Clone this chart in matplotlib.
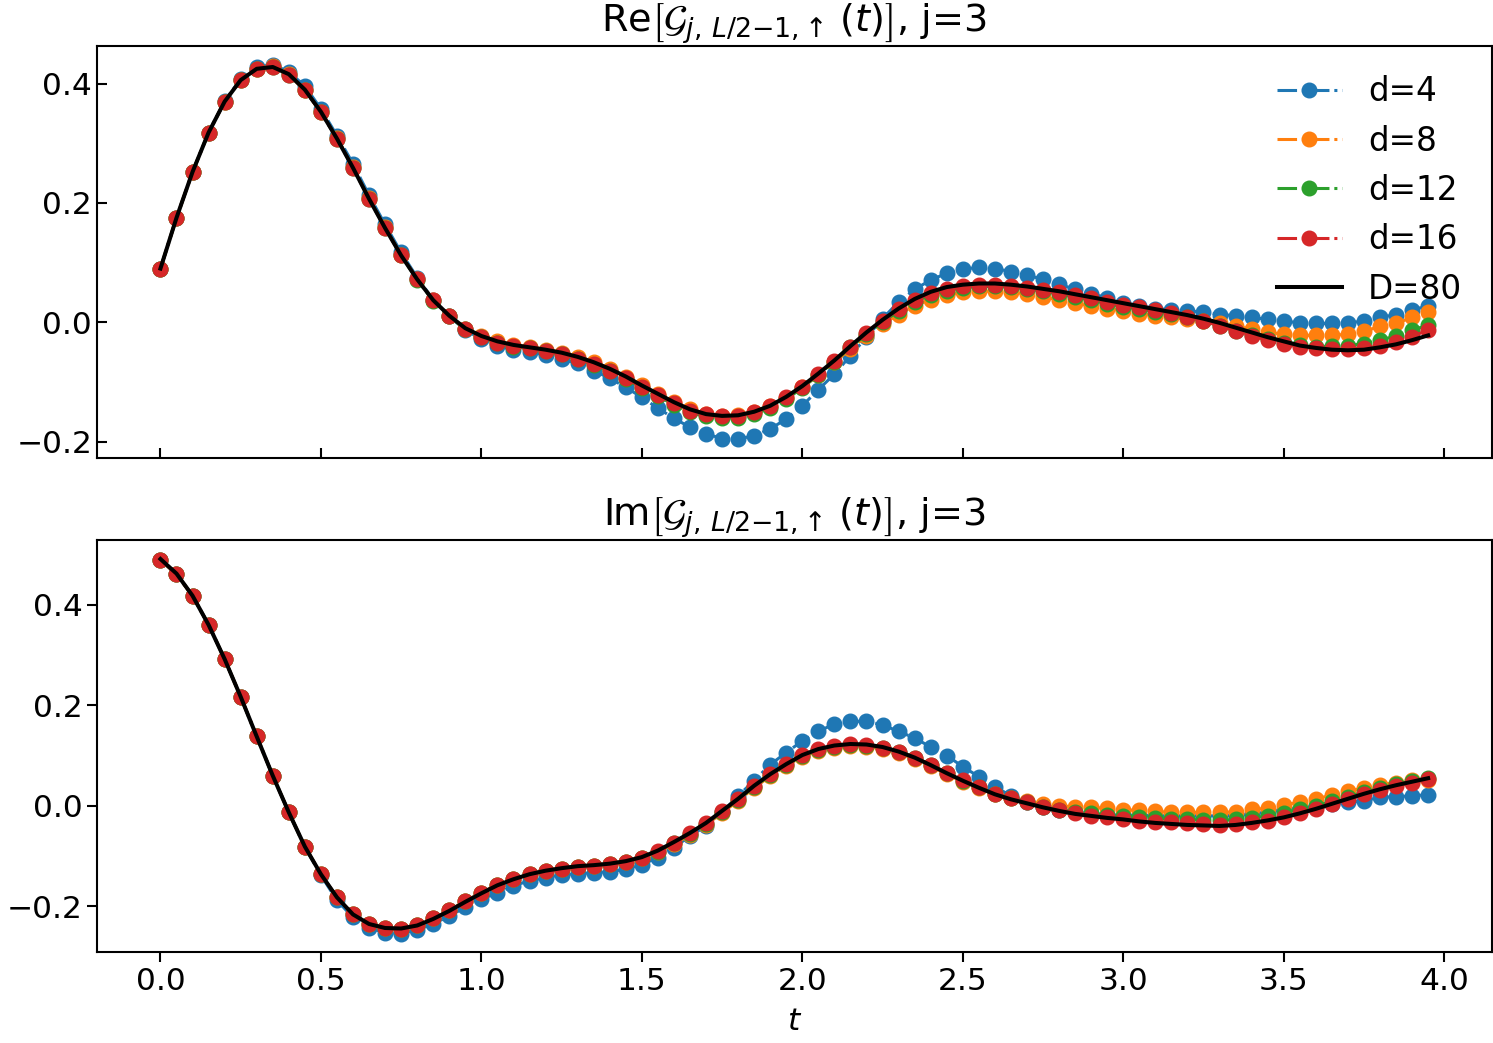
import numpy as np
import matplotlib
matplotlib.use("Agg")
import matplotlib.pyplot as plt

# time grid (dt = 0.05)
t = np.round(np.arange(0, 4.0, 0.05), 2)

# Re part
re_d4 = [0.090, 0.175, 0.252, 0.318, 0.371, 0.408, 0.428, 0.432, 0.420, 0.396,
         0.358, 0.313, 0.266, 0.213, 0.164, 0.117, 0.075, 0.038, 0.010, -0.013,
         -0.028, -0.040, -0.046, -0.050, -0.055, -0.062, -0.069, -0.081, -0.094, -0.109,
         -0.126, -0.144, -0.161, -0.176, -0.187, -0.195, -0.196, -0.190, -0.179, -0.162,
         -0.140, -0.113, -0.087, -0.056, -0.025, 0.006, 0.034, 0.055, 0.071, 0.082,
         0.089, 0.092, 0.090, 0.085, 0.079, 0.072, 0.064, 0.055, 0.048, 0.041,
         0.033, 0.027, 0.023, 0.021, 0.019, 0.017, 0.013, 0.011, 0.008, 0.005,
         0.002, -0.001, -0.002, -0.002, -0.001, 0.002, 0.008, 0.013, 0.021, 0.027]
re_d8 = [0.090, 0.175, 0.252, 0.318, 0.370, 0.406, 0.425, 0.429, 0.416, 0.390,
         0.353, 0.309, 0.260, 0.208, 0.159, 0.113, 0.073, 0.038, 0.011, -0.011,
         -0.023, -0.032, -0.038, -0.041, -0.046, -0.051, -0.058, -0.067, -0.078, -0.091,
         -0.106, -0.120, -0.134, -0.146, -0.153, -0.157, -0.156, -0.151, -0.141, -0.127,
         -0.109, -0.089, -0.067, -0.045, -0.023, -0.003, 0.013, 0.028, 0.038, 0.045,
         0.050, 0.052, 0.052, 0.051, 0.047, 0.043, 0.037, 0.032, 0.027, 0.023,
         0.019, 0.014, 0.011, 0.008, 0.005, 0.002, -0.002, -0.006, -0.012, -0.017,
         -0.020, -0.022, -0.022, -0.022, -0.020, -0.015, -0.007, -0.002, 0.008, 0.018]
re_d12 = [0.090, 0.175, 0.252, 0.318, 0.370, 0.406, 0.425, 0.428, 0.415, 0.389,
          0.352, 0.308, 0.259, 0.207, 0.158, 0.112, 0.071, 0.036, 0.010, -0.012,
          -0.025, -0.035, -0.041, -0.044, -0.049, -0.054, -0.062, -0.071, -0.082, -0.095,
          -0.110, -0.124, -0.138, -0.151, -0.158, -0.161, -0.160, -0.154, -0.144, -0.129,
          -0.110, -0.088, -0.066, -0.042, -0.020, 0.000, 0.019, 0.034, 0.046, 0.053,
          0.058, 0.060, 0.060, 0.059, 0.056, 0.052, 0.047, 0.042, 0.037, 0.031,
          0.026, 0.022, 0.018, 0.014, 0.009, 0.002, -0.006, -0.014, -0.021, -0.028,
          -0.034, -0.038, -0.041, -0.040, -0.039, -0.036, -0.030, -0.023, -0.013, -0.005]
re_d16 = [0.090, 0.175, 0.252, 0.318, 0.370, 0.406, 0.425, 0.428, 0.415, 0.389,
          0.352, 0.308, 0.259, 0.207, 0.158, 0.112, 0.072, 0.037, 0.011, -0.011,
          -0.024, -0.034, -0.040, -0.043, -0.048, -0.053, -0.061, -0.070, -0.081, -0.094,
          -0.109, -0.122, -0.136, -0.148, -0.154, -0.158, -0.157, -0.151, -0.141, -0.126,
          -0.108, -0.087, -0.065, -0.041, -0.018, 0.002, 0.022, 0.037, 0.049, 0.055,
          0.060, 0.062, 0.062, 0.061, 0.058, 0.054, 0.050, 0.045, 0.040, 0.034,
          0.029, 0.025, 0.021, 0.016, 0.009, 0.002, -0.006, -0.015, -0.023, -0.030,
          -0.037, -0.041, -0.044, -0.045, -0.045, -0.043, -0.040, -0.033, -0.024, -0.013]
re_D80 = [0.090, 0.175, 0.252, 0.318, 0.370, 0.406, 0.425, 0.428, 0.416, 0.390,
          0.353, 0.308, 0.259, 0.207, 0.158, 0.112, 0.072, 0.037, 0.011, -0.010,
          -0.023, -0.032, -0.038, -0.042, -0.046, -0.051, -0.058, -0.067, -0.078, -0.091,
          -0.106, -0.120, -0.134, -0.146, -0.154, -0.157, -0.156, -0.150, -0.140, -0.125,
          -0.107, -0.086, -0.064, -0.040, -0.017, 0.004, 0.023, 0.039, 0.051, 0.059,
          0.063, 0.065, 0.065, 0.063, 0.060, 0.056, 0.052, 0.047, 0.042, 0.037,
          0.032, 0.027, 0.022, 0.017, 0.012, 0.006, -0.001, -0.009, -0.017, -0.025,
          -0.032, -0.039, -0.043, -0.046, -0.047, -0.046, -0.042, -0.037, -0.030, -0.022]

# Im part
im_d4 = [0.489, 0.461, 0.418, 0.360, 0.292, 0.217, 0.138, 0.060, -0.013, -0.082,
         -0.138, -0.188, -0.222, -0.243, -0.252, -0.254, -0.247, -0.235, -0.219, -0.202,
         -0.185, -0.174, -0.159, -0.149, -0.143, -0.137, -0.135, -0.133, -0.131, -0.126,
         -0.117, -0.103, -0.083, -0.060, -0.040, -0.013, 0.020, 0.050, 0.082, 0.106,
         0.129, 0.148, 0.163, 0.168, 0.168, 0.161, 0.148, 0.135, 0.117, 0.100,
         0.078, 0.058, 0.038, 0.020, 0.007, -0.002, -0.009, -0.013, -0.016, -0.018,
         -0.019, -0.019, -0.020, -0.020, -0.020, -0.020, -0.020, -0.019, -0.017, -0.012,
         -0.008, -0.004, -0.001, 0.003, 0.007, 0.010, 0.017, 0.018, 0.020, 0.022]
im_d8 = [0.489, 0.461, 0.418, 0.360, 0.292, 0.217, 0.138, 0.060, -0.013, -0.081,
         -0.136, -0.182, -0.216, -0.235, -0.243, -0.244, -0.237, -0.224, -0.208, -0.190,
         -0.173, -0.157, -0.146, -0.136, -0.129, -0.125, -0.121, -0.119, -0.116, -0.111,
         -0.104, -0.092, -0.076, -0.058, -0.038, -0.014, 0.010, 0.036, 0.059, 0.080,
         0.098, 0.110, 0.116, 0.120, 0.118, 0.113, 0.105, 0.093, 0.079, 0.063,
         0.048, 0.036, 0.023, 0.015, 0.009, 0.003, 0.000, -0.002, -0.003, -0.005,
         -0.008, -0.009, -0.011, -0.013, -0.013, -0.013, -0.013, -0.012, -0.007, -0.005,
         0.002, 0.007, 0.013, 0.022, 0.030, 0.035, 0.042, 0.046, 0.051, 0.052]
im_d12 = [0.489, 0.461, 0.418, 0.360, 0.292, 0.217, 0.138, 0.060, -0.013, -0.081,
          -0.136, -0.182, -0.216, -0.235, -0.243, -0.244, -0.237, -0.224, -0.208, -0.190,
          -0.173, -0.157, -0.146, -0.136, -0.129, -0.125, -0.121, -0.119, -0.116, -0.111,
          -0.103, -0.091, -0.074, -0.056, -0.036, -0.012, 0.012, 0.038, 0.061, 0.081,
          0.099, 0.111, 0.118, 0.122, 0.120, 0.115, 0.107, 0.095, 0.081, 0.065,
          0.050, 0.037, 0.024, 0.015, 0.007, -0.002, -0.008, -0.012, -0.015, -0.018,
          -0.020, -0.023, -0.025, -0.026, -0.027, -0.028, -0.029, -0.027, -0.024, -0.020,
          -0.014, -0.007, 0.000, 0.009, 0.018, 0.027, 0.035, 0.043, 0.049, 0.055]
im_d16 = [0.489, 0.461, 0.418, 0.360, 0.292, 0.217, 0.138, 0.060, -0.013, -0.081,
          -0.136, -0.182, -0.216, -0.235, -0.243, -0.244, -0.237, -0.224, -0.208, -0.190,
          -0.173, -0.157, -0.146, -0.136, -0.129, -0.125, -0.121, -0.119, -0.116, -0.111,
          -0.103, -0.090, -0.073, -0.055, -0.035, -0.011, 0.013, 0.040, 0.063, 0.083,
          0.101, 0.113, 0.119, 0.123, 0.121, 0.116, 0.108, 0.096, 0.082, 0.066,
          0.051, 0.038, 0.024, 0.015, 0.007, -0.002, -0.009, -0.015, -0.020, -0.023,
          -0.026, -0.030, -0.032, -0.033, -0.035, -0.036, -0.038, -0.036, -0.033, -0.030,
          -0.023, -0.015, -0.007, 0.003, 0.013, 0.023, 0.031, 0.040, 0.046, 0.053]
im_D80 = [0.491, 0.462, 0.418, 0.360, 0.292, 0.217, 0.138, 0.060, -0.013, -0.081,
          -0.136, -0.182, -0.216, -0.235, -0.243, -0.244, -0.238, -0.225, -0.209, -0.191,
          -0.174, -0.158, -0.146, -0.136, -0.129, -0.124, -0.120, -0.118, -0.115, -0.110,
          -0.102, -0.089, -0.072, -0.054, -0.034, -0.010, 0.014, 0.040, 0.063, 0.083,
          0.101, 0.113, 0.120, 0.123, 0.122, 0.117, 0.108, 0.096, 0.081, 0.065,
          0.050, 0.036, 0.023, 0.013, 0.005, -0.003, -0.010, -0.016, -0.020, -0.024,
          -0.027, -0.031, -0.034, -0.036, -0.038, -0.039, -0.040, -0.038, -0.034, -0.029,
          -0.023, -0.015, -0.006, 0.004, 0.014, 0.024, 0.033, 0.041, 0.048, 0.055]

bond_dims = ["d=4", "d=8", "d=12", "d=16"]
colors = ["tab:blue", "tab:orange", "tab:green", "tab:red"]

plt.rcParams["font.size"] = 22.5
plt.rcParams["axes.linewidth"] = 1.5

fig, (ax1, ax2) = plt.subplots(2, 1, sharex=True, figsize=(14.93, 10.43), dpi=100)
fig.subplots_adjust(left=0.065, right=0.999, top=0.956, bottom=0.087, hspace=0.2)

sub = r"\mathcal{G}_{j,\,L/2{-}1{,}{\uparrow}}\,(t)"

# 實部
for ys, lab, c in zip([re_d4, re_d8, re_d12, re_d16], bond_dims, colors):
    ax1.plot(t, ys, "o-.", color=c, label=lab, markersize=10.5, linewidth=2.2)
ax1.plot(t, re_D80, "-", color="black", label="D=80", linewidth=2.9)
ax1.set_title(r"Re$\left[" + sub + r"\right]$, j=3", fontsize=27.5)
ax1.tick_params(direction="in", length=7, width=1.5)
ax1.legend(loc="upper right", frameon=False, fontsize=23.5, handlelength=2.0,
           labelspacing=0.5, borderaxespad=0.5)

# 虛部
for ys, lab, c in zip([im_d4, im_d8, im_d12, im_d16], bond_dims, colors):
    ax2.plot(t, ys, "o-.", color=c, label=lab, markersize=10.5, linewidth=2.2)
ax2.plot(t, im_D80, "-", color="black", label="D=80", linewidth=2.9)
ax2.set_title(r"Im$\left[" + sub + r"\right]$, j=3", fontsize=27.5)
ax2.tick_params(length=7, width=1.5)
ax2.set_xlabel(r"$t$", labelpad=8)

fig.savefig("out.png", dpi=100)
